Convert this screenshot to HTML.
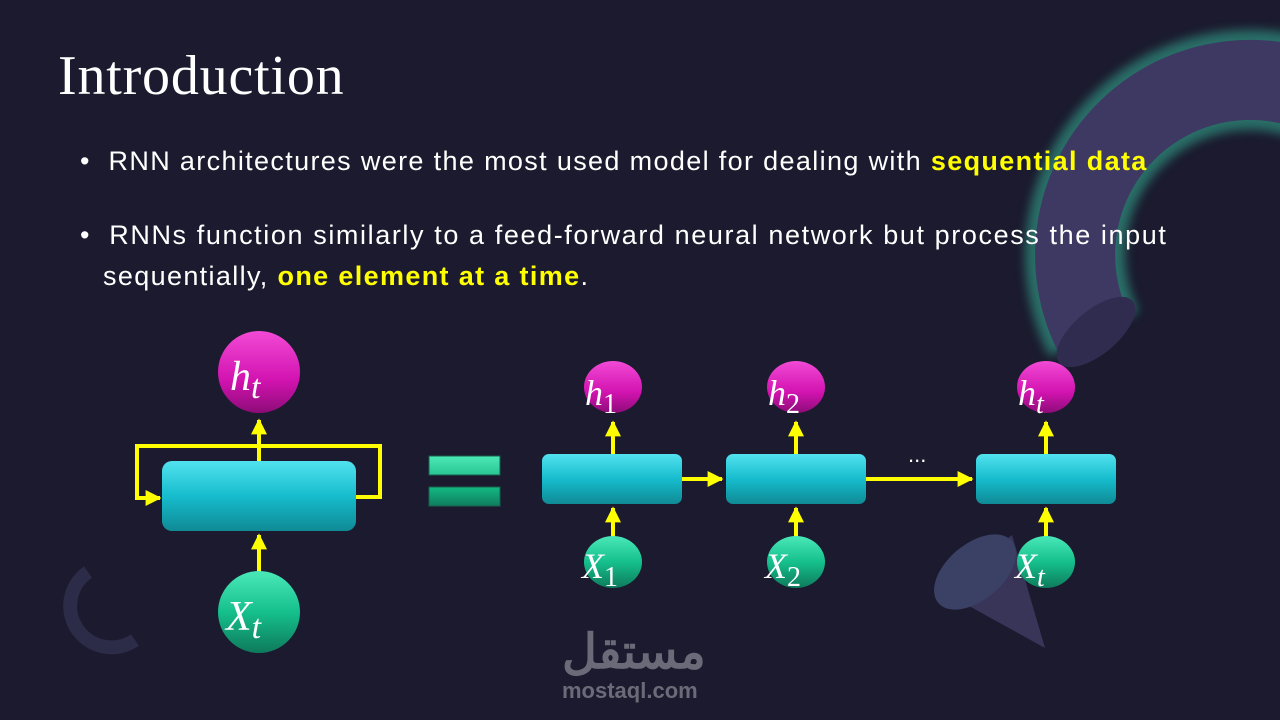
<!DOCTYPE html>
<html><head><meta charset="utf-8"><style>
html,body{margin:0;padding:0;background:#1b1a2e;}
#s{position:relative;width:1280px;height:720px;overflow:hidden;background:#1b1a2e;font-family:"Liberation Sans",sans-serif;}
.t{position:absolute;color:#fff;white-space:nowrap;}
.y{color:#ffff00;font-weight:bold;}
.b{font-size:27px;letter-spacing:1.35px;}
</style></head><body><div id="s">
<svg width="1280" height="720" style="position:absolute;left:0;top:0">
<defs>
<linearGradient id="box" x1="0" y1="0" x2="0" y2="1"><stop offset="0" stop-color="#52e2ef"/><stop offset="0.5" stop-color="#16bccd"/><stop offset="1" stop-color="#0f8a95"/></linearGradient>
<linearGradient id="mag" x1="0" y1="0" x2="0" y2="1"><stop offset="0" stop-color="#f24ad6"/><stop offset="0.6" stop-color="#d213b0"/><stop offset="1" stop-color="#8d0c78"/></linearGradient>
<linearGradient id="grn" x1="0" y1="0" x2="0" y2="1"><stop offset="0" stop-color="#4ae8b8"/><stop offset="0.5" stop-color="#15c08c"/><stop offset="1" stop-color="#0e7a5c"/></linearGradient>
<linearGradient id="eq1" x1="0" y1="0" x2="0" y2="1"><stop offset="0" stop-color="#4ce8b6"/><stop offset="1" stop-color="#28c694"/></linearGradient>
<linearGradient id="eq2" x1="0" y1="0" x2="0" y2="1"><stop offset="0" stop-color="#13b983"/><stop offset="1" stop-color="#0f7c5e"/></linearGradient>
<marker id="ar" viewBox="0 0 10 10" refX="9" refY="5" markerWidth="4" markerHeight="4" orient="auto"><path d="M0,0L10,5L0,10z" fill="#ffff00"/></marker>
<filter id="bl" x="-50%" y="-50%" width="200%" height="200%"><feGaussianBlur stdDeviation="5"/></filter>
</defs>
<!-- torus -->
<path d="M1094,334 A175,175 0 0 1 1337,103" fill="none" stroke="#2f8a7a" stroke-width="100" opacity="0.75" filter="url(#bl)"/>
<path d="M1094,334 A175,175 0 0 1 1337,103" fill="none" stroke="#3d3962" stroke-width="80"/>
<ellipse cx="1096" cy="332" rx="48" ry="22" transform="rotate(-40 1096 332)" fill="#302c4f"/>
<!-- cone -->
<path d="M940,590 L1045,648 L1012,535 Z" fill="#383559"/>
<ellipse cx="975" cy="572" rx="48" ry="28" transform="rotate(-40 975 572)" fill="#3b4165"/>
<!-- small ring -->
<path d="M88,572 A38,38 0 0 0 135,640" fill="none" stroke="#2c2b48" stroke-width="14"/>
<!-- left unit -->
<polyline points="259,461 259,420" stroke="#ffff00" stroke-width="4" fill="none" marker-end="url(#ar)"/>
<polyline points="356,497 380,497 380,446 137,446 137,498 160,498" stroke="#ffff00" stroke-width="4" fill="none" marker-end="url(#ar)"/>
<rect x="162" y="461" width="194" height="70" rx="10" fill="url(#box)"/>
<polyline points="259,578 259,535" stroke="#ffff00" stroke-width="4" fill="none" marker-end="url(#ar)"/>
<circle cx="259" cy="372" r="41" fill="url(#mag)"/>
<circle cx="259" cy="612" r="41" fill="url(#grn)"/>
<!-- equals -->
<rect x="429" y="456" width="71" height="19" fill="url(#eq1)" stroke="#17604a"/>
<rect x="429" y="487" width="71" height="19" fill="url(#eq2)" stroke="#17604a"/>
<!-- unrolled -->
<g stroke="#ffff00" stroke-width="4" fill="none">
<line x1="682" y1="479" x2="722" y2="479" marker-end="url(#ar)"/>
<line x1="866" y1="479" x2="972" y2="479" marker-end="url(#ar)"/>
<line x1="613" y1="454" x2="613" y2="422" marker-end="url(#ar)"/>
<line x1="796" y1="454" x2="796" y2="422" marker-end="url(#ar)"/>
<line x1="1046" y1="454" x2="1046" y2="422" marker-end="url(#ar)"/>
<line x1="613" y1="537" x2="613" y2="508" marker-end="url(#ar)"/>
<line x1="796" y1="537" x2="796" y2="508" marker-end="url(#ar)"/>
<line x1="1046" y1="537" x2="1046" y2="508" marker-end="url(#ar)"/>
</g>
<rect x="542" y="454" width="140" height="50" rx="7" fill="url(#box)"/>
<rect x="726" y="454" width="140" height="50" rx="7" fill="url(#box)"/>
<rect x="976" y="454" width="140" height="50" rx="7" fill="url(#box)"/>
<ellipse cx="613" cy="387" rx="29" ry="26" fill="url(#mag)"/>
<ellipse cx="796" cy="387" rx="29" ry="26" fill="url(#mag)"/>
<ellipse cx="1046" cy="387" rx="29" ry="26" fill="url(#mag)"/>
<ellipse cx="613" cy="562" rx="29" ry="26" fill="url(#grn)"/>
<ellipse cx="796" cy="562" rx="29" ry="26" fill="url(#grn)"/>
<ellipse cx="1046" cy="562" rx="29" ry="26" fill="url(#grn)"/>
<g font-family="Liberation Serif,serif" font-style="italic" fill="#fff">
<text x="230" y="390" font-size="42">h<tspan font-size="34" dy="8">t</tspan></text>
<text x="226" y="630" font-size="42">X<tspan font-size="34" dy="8">t</tspan></text>
<text x="585" y="405" font-size="36">h<tspan font-size="28" dy="8" font-style="normal">1</tspan></text>
<text x="768" y="405" font-size="36">h<tspan font-size="28" dy="8" font-style="normal">2</tspan></text>
<text x="1018" y="405" font-size="36">h<tspan font-size="28" dy="8">t</tspan></text>
<text x="582" y="578" font-size="36">X<tspan font-size="28" dy="8" font-style="normal">1</tspan></text>
<text x="765" y="578" font-size="36">X<tspan font-size="28" dy="8" font-style="normal">2</tspan></text>
<text x="1015" y="578" font-size="36">X<tspan font-size="28" dy="8">t</tspan></text>
</g>
<text x="908" y="462" fill="#fff" font-size="22" font-family="Liberation Sans,sans-serif">...</text>
</svg>
<div class="t" style="left:58px;top:44px;font-family:'Liberation Serif',serif;font-size:56px;letter-spacing:0.8px;">Introduction</div>
<div class="t b" style="left:80px;top:146px;">•&nbsp; RNN architectures were the most used model for dealing with <span class="y">sequential data</span></div>
<div class="t b" style="left:80px;top:220px;letter-spacing:1.6px;">•&nbsp; RNNs function similarly to a feed-forward neural network but process the input</div>
<div class="t b" style="left:103px;top:261px;">sequentially, <span class="y">one element at a time</span>.</div>
<div class="t" style="left:562px;top:624px;font-size:48px;font-weight:bold;color:#6b6a78;font-family:'Liberation Sans','Noto Sans CJK SC',sans-serif;">مستقل</div>
<div class="t" style="left:562px;top:678px;font-size:22px;font-weight:bold;color:#6b6a78;">mostaql.com</div>
</div></body></html>
